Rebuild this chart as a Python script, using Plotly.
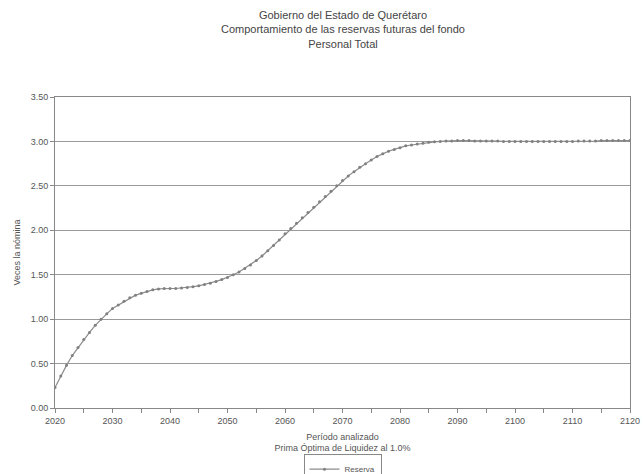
import plotly.graph_objects as go

years = list(range(2020, 2121))
reserva = [
    0.23, 0.36, 0.48, 0.59, 0.68, 0.77, 0.85, 0.93, 1.00, 1.06,   # 2020-2029
    1.12, 1.16, 1.20, 1.24, 1.27, 1.29, 1.31, 1.33, 1.34, 1.345,  # 2030-2039
    1.345, 1.345, 1.35, 1.355, 1.365, 1.375, 1.39, 1.405, 1.425, 1.445,  # 2040-2049
    1.47, 1.50, 1.53, 1.57, 1.61, 1.66, 1.71, 1.77, 1.83, 1.89,   # 2050-2059
    1.96, 2.02, 2.08, 2.14, 2.20, 2.26, 2.32, 2.38, 2.44, 2.50,   # 2060-2069
    2.56, 2.61, 2.66, 2.71, 2.75, 2.79, 2.83, 2.86, 2.89, 2.91,   # 2070-2079
    2.93, 2.95, 2.96, 2.97, 2.98, 2.99, 2.995, 3.00, 3.005, 3.005,  # 2080-2089
    3.01, 3.01, 3.01, 3.005, 3.005, 3.005, 3.005, 3.005, 3.00, 3.00,  # 2090-2099
    3.00, 3.00, 3.00, 3.00, 3.00, 3.00, 3.00, 3.00, 3.00, 3.00,   # 2100-2109
    3.00, 3.005, 3.005, 3.005, 3.005, 3.01, 3.01, 3.01, 3.01, 3.01,  # 2110-2119
    3.01,  # 2120
]
x_tickvals = list(range(2020, 2121, 5))
x_ticktext = [str(v) if v % 10 == 0 else "" for v in x_tickvals]
y_tickvals = [0, 0.5, 1.0, 1.5, 2.0, 2.5, 3.0, 3.5]
y_ticktext = ["0.00", "0.50", "1.00", "1.50", "2.00", "2.50", "3.00", "3.50"]
title_lines = ["Gobierno del Estado de Querétaro",
               "Comportamiento de las reservas futuras del fondo",
               "Personal Total"]

FONT = "Liberation Sans, Arial, sans-serif"
GRAY_TXT = "#555555"

fig = go.Figure()
fig.add_trace(go.Scatter(
    x=years, y=reserva, name="Reserva", mode="lines+markers",
    line=dict(color="#8c8c8c", width=1.2),
    marker=dict(symbol="circle", size=3, color="#808080"),
))

fig.add_annotation(
    text="<br>".join(title_lines), xref="paper", yref="paper",
    x=0.5, xanchor="center", y=1 + 90 / 311, yanchor="top", showarrow=False,
    font=dict(family=FONT, size=11, color="#444444"),
)

fig.update_layout(
    width=644, height=474,
    paper_bgcolor="white", plot_bgcolor="white",
    margin=dict(l=55, r=14, t=97, b=66, autoexpand=False),
    font=dict(family=FONT, color=GRAY_TXT, size=9),
    showlegend=True,
    legend=dict(
        orientation="h", x=0.5, xanchor="center", y=-0.147, yanchor="top",
        bordercolor="#888888", borderwidth=1, bgcolor="white",
        font=dict(size=8, color=GRAY_TXT),
        itemwidth=30,
    ),
    xaxis=dict(
        range=[2020, 2120], automargin=False, ticklabeloverflow="allow",
        tickmode="array", tickvals=x_tickvals, ticktext=x_ticktext,
        ticks="outside", ticklen=4, tickcolor="#888888",
        showline=True, linecolor="#888888", linewidth=1, mirror=True,
        showgrid=False, zeroline=False,
        tickfont=dict(size=9, color=GRAY_TXT),
        title=dict(text="Período analizado<br>Prima Óptima de Liquidez al 1.0%",
                   font=dict(size=9, color=GRAY_TXT), standoff=8),
    ),
    yaxis=dict(
        range=[0, 3.5], automargin=False,
        tickmode="array", tickvals=y_tickvals, ticktext=y_ticktext,
        ticks="outside", ticklen=4, tickcolor="#888888",
        showline=True, linecolor="#888888", linewidth=1, mirror=True,
        showgrid=True, gridcolor="#9a9a9a", gridwidth=1, zeroline=False,
        tickfont=dict(size=9, color=GRAY_TXT),
        title=dict(text="Veces la nómina", font=dict(size=9, color=GRAY_TXT), standoff=8),
    ),
)

fig.write_html(
    "out.html",
    config={"displayModeBar": False},
    post_script="document.body.style.margin='0';document.body.style.overflow='hidden';",
)
